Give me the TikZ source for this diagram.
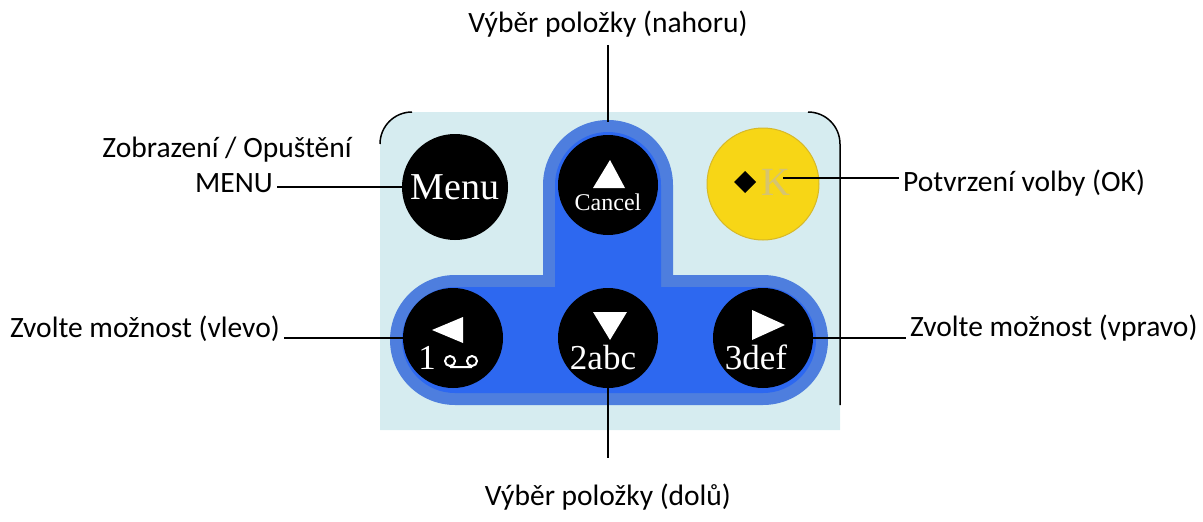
\documentclass[tikz,border=0pt]{standalone}
\usepackage{fontspec}
\setmainfont{Carlito}
\newfontfamily\keyfont{Liberation Serif}
\definecolor{panelblue}{RGB}{214,236,240}
\definecolor{ringblue}{RGB}{78,126,222}
\definecolor{keyblue}{RGB}{45,104,240}
\definecolor{okyellow}{RGB}{247,214,22}
\definecolor{okedge}{RGB}{214,184,40}
\definecolor{kgray}{RGB}{214,196,112}

% outline of the blue cross, inset by #1
\newcommand{\crosspath}[1]{%
  (543+#1,275+#1) -- (543+#1,185) arc[start angle=180,end angle=360,radius=65-#1]
  -- (673-#1,275+#1) -- (763,275+#1) arc[start angle=-90,end angle=90,radius=65-#1]
  -- (455,405-#1) arc[start angle=90,end angle=270,radius=65-#1] -- cycle}

\tikzset{
  lbl/.style={font=\fontsize{29.5}{34}\selectfont, inner sep=4pt},
  key/.style={circle, fill=black, minimum size=100pt, inner sep=0pt, text=white,
    font=\keyfont\fontsize{38}{40}\selectfont},
  keytxt/.style={text=white, inner sep=0pt, font=\keyfont\fontsize{35}{38}\selectfont},
  wire/.style={line width=1.5pt},
}

\begin{document}
\begin{tikzpicture}[x=1pt,y=-1pt]
  \useasboundingbox (0,0) rectangle (1203,522);

  % panel
  \fill[panelblue] (380,430) -- (380,144) arc[start angle=180,end angle=270,radius=32]
    -- (808,112) arc[start angle=270,end angle=360,radius=32] -- (840,430) -- cycle;
  \draw[wire] (380,144) arc[start angle=180,end angle=270,radius=32];
  \draw[wire] (808,112) arc[start angle=270,end angle=360,radius=32] -- (840,405);

  \foreach \d/\c in {0/ringblue,12/keyblue}
    \fill[\c] \crosspath{\d};

  % keys
  \node[key, minimum size=106pt] (menu) at (455,187) {Menu};
  \node[key] (up) at (608,185) {};
  \fill[white] (610,160) -- (625,188) -- (593,188) -- cycle;
  \node[text=white, inner sep=0pt, font=\keyfont\fontsize{24}{26}\selectfont] at ([yshift=-17pt]up) {Cancel};

  \node[key, fill=okyellow, draw=okedge, line width=1pt, minimum size=112pt] (ok) at (763,184) {};
  \fill (745,171) -- (756,182) -- (745,193) -- (734,182) -- cycle;
  \node[text=kgray, inner sep=0pt, font=\keyfont\fontsize{40}{42}\selectfont] at (776,182) {K};

  \foreach \n/\x in {left/453,down/608,right/763}
    \node[key] (\n) at (\x,338) {};
  \fill[white] (432,330) -- (463,317) -- (463,343) -- cycle;
  \fill[white] (593,312) -- (627,312) -- (610,340) -- cycle;
  \fill[white] (785,325) -- (752,310) -- (752,340) -- cycle;
  \node[keytxt, anchor=base] at (427,369) {1};
  \draw[white, line width=2pt] (450,361) circle[radius=5] (472,361) circle[radius=5]
    (450,367) -- (472,367);
  \node[keytxt, anchor=base] at (603,369) {2abc};
  \node[keytxt, anchor=base] at (756,369) {3def};

  % labels
  \node[lbl, anchor=base] (nahoru) at (608,32) {Výběr položky (nahoru)};
  \node[lbl, anchor=base] (zobr) at (227,157) {Zobrazení / Opuštění};
  \node[lbl, anchor=base] (menulbl) at (234,192) {MENU};
  \node[lbl, anchor=base west] (oklbl) at (899,191) {Potvrzení volby (OK)};
  \node[lbl, anchor=base east] (vlevo) at (284,337) {Zvolte možnost (vlevo)};
  \node[lbl, anchor=base west] (vpravo) at (906,336) {Zvolte možnost (vpravo)};
  \node[lbl, anchor=base] (dolu) at (608,505) {Výběr položky (dolů)};

  % connectors
  \coordinate (upend) at (608,122);
  \coordinate (okend) at (783,178);
  \coordinate (downend) at (608,458);
  \draw[wire, shorten <=4pt] (nahoru.south) -- (upend);
  \draw[wire] (menu.west) -- (menu.west -| menulbl.east);
  \draw[wire] (okend) -- (okend -| oklbl.west);
  \draw[wire] (left.west) -- (left.west -| vlevo.east);
  \draw[wire] (right.east) -- (right.east -| vpravo.west);
  \draw[wire] (down) -- (downend);
\end{tikzpicture}
\end{document}
